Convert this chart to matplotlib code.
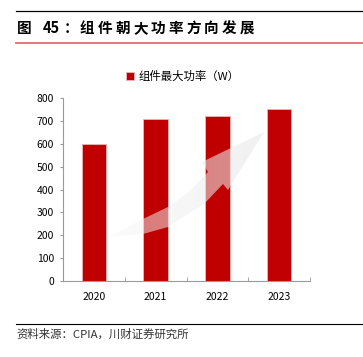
import matplotlib
matplotlib.use("Agg")
import matplotlib.pyplot as plt
import numpy as np
from matplotlib.patches import Polygon

plt.rcParams["font.family"] = ["Noto Sans CJK SC", "DejaVu Sans"]

years = ["2020", "2021", "2022", "2023"]
power_w = [600, 710, 720, 750]
yticks = [0, 100, 200, 300, 400, 500, 600, 700, 800]

title_head = ["图", "45", "："]
title_body = "组件朝大功率方向发展"
legend_label = "组件最大功率（W）"
source = "资料来源：CPIA，川财证券研究所"

W, H = 363, 357
BAR = "#c00000"


def fx(px):
    return px / W


def fy(py):
    return 1 - py / H


fig = plt.figure(figsize=(W / 100, H / 100), dpi=100)

# header / footer rules
fig.add_artist(plt.Line2D([fx(16), 1], [fy(11), fy(11)], color="black", lw=0.9))
fig.add_artist(plt.Line2D([fx(16), 1], [fy(43), fy(43)], color="#e36d6d", lw=1.3))
fig.add_artist(plt.Line2D([fx(16), 1], [fy(324), fy(324)], color="black", lw=0.8))

# title with loose tracking like the original
for s, x in zip(title_head, [17, 43, 64]):
    fig.text(fx(x), fy(28), s, fontsize=10.5, fontweight="bold", va="center", ha="left")
for i, ch in enumerate(title_body):
    fig.text(fx(80 + i * 17.7), fy(28), ch, fontsize=10.5, fontweight="bold", va="center", ha="left")

fig.text(fx(16), fy(334), source, fontsize=8.2, color="#333333", va="center", ha="left")

ax = fig.add_axes([fx(63), fy(281), fx(310 - 63), (281 - 98) / H])
x = np.arange(len(years))
bars = ax.bar(x, power_w, width=0.4, color=BAR, edgecolor="#eeb5b5", linewidth=0.6,
              label=legend_label, zorder=2)

ax.set_xlim(-0.5, len(years) - 0.5)
ax.set_ylim(0, 800)
ax.set_yticks(yticks)
ax.set_xticks(x)
ax.set_xticklabels(years)
ax.set_xticks(np.arange(len(years) + 1) - 0.5, minor=True)
ax.tick_params(axis="x", which="major", length=0, pad=8, labelsize=7.5)
ax.tick_params(axis="x", which="minor", length=3, color="#999999", direction="in")
ax.tick_params(axis="y", length=2.5, color="#999999", pad=4, labelsize=7.5)
for side in ["top", "right"]:
    ax.spines[side].set_visible(False)
for side in ["left", "bottom"]:
    ax.spines[side].set_color("#999999")
    ax.spines[side].set_linewidth(0.8)

leg = ax.legend(loc="center left", bbox_to_anchor=(fx(126), fy(76)), bbox_transform=fig.transFigure,
                frameon=False, fontsize=8.2, handlelength=0.7, handleheight=0.7,
                handletextpad=0.4, borderpad=0, borderaxespad=0)

# decorative upward arrow (pixel outline -> axes fraction)
outline_px = [(108, 237), (143, 219), (168, 207), (190, 191), (208, 172), (202, 162),
              (264, 132), (228, 190), (223, 184), (205, 203), (168, 227), (143, 234)]
outline = [((px - 63) / 247, (281 - py) / 183) for px, py in outline_px]
arrow = Polygon(outline, closed=True, transform=ax.transAxes, facecolor="none", edgecolor="none")
ax.add_patch(arrow)
grad = np.linspace(0, 1, 256)
img = np.zeros((2, 256, 4))
img[..., :3] = (0.99 - 0.1 * grad)[None, :, None]
img[..., 3] = 0.45 + 0.2 * grad
im = ax.imshow(img, extent=[0, 1, 0, 1], transform=ax.transAxes, aspect="auto",
               interpolation="bilinear", zorder=3)
im.set_clip_path(arrow)

fig.savefig("out.png", dpi=100)
